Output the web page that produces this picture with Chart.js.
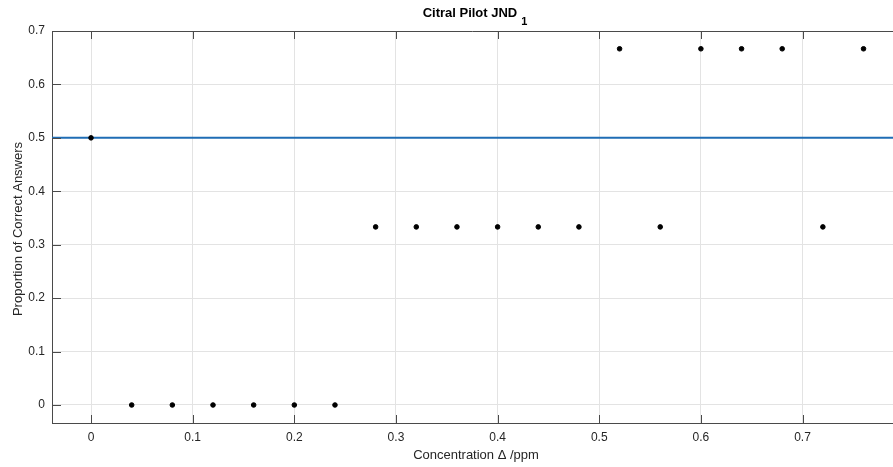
<!DOCTYPE html>
<html>
<head>
<meta charset="utf-8">
<script src="https://cdn.jsdelivr.net/npm/chart.js@4"></script>
<style>
  html, body { margin: 0; padding: 0; background: #fff; }
  #wrap { width: 893px; height: 467px; position: relative; }
</style>
</head>
<body>
<div id="wrap"><canvas id="chart"></canvas></div>
<script>
// values
const concentration = [0, 0.04, 0.08, 0.12, 0.16, 0.2, 0.24, 0.28, 0.32, 0.36,
                       0.4, 0.44, 0.48, 0.52, 0.56, 0.6, 0.64, 0.68, 0.72, 0.76];
const proportion = [0.5, 0, 0, 0, 0, 0, 0, 0.3333, 0.3333, 0.3333,
                    0.3333, 0.3333, 0.3333, 0.6667, 0.3333, 0.6667, 0.6667, 0.6667, 0.3333, 0.6667];
const chanceLevel = 0.5;
const xTicks = [0, 0.1, 0.2, 0.3, 0.4, 0.5, 0.6, 0.7];
const yTicks = [0, 0.1, 0.2, 0.3, 0.4, 0.5, 0.6, 0.7];
const xLimits = [-0.0384, 0.789];
const yLimits = [-0.0337, 0.7];

const FONT = '"Liberation Sans", Arial, Helvetica, sans-serif';
const AXIS_COLOR = '#4a4a4a';

// MATLAB-like box: inward ticks, top border, title and axis labels
const matlabAxes = {
    id: 'matlabAxes',
    afterDraw(chart) {
        const ctx = chart.ctx;
        const area = chart.chartArea;
        const xs = chart.scales.x;
        const ys = chart.scales.y;
        ctx.save();
        ctx.strokeStyle = AXIS_COLOR;
        ctx.lineWidth = 1;
        ctx.beginPath();
        ctx.moveTo(area.left, area.top + 0.5);
        ctx.lineTo(area.right, area.top + 0.5);
        xTicks.forEach(v => {
            const px = Math.round(xs.getPixelForValue(v)) + 0.5;
            ctx.moveTo(px, area.bottom);
            ctx.lineTo(px, area.bottom - 8);
            ctx.moveTo(px, area.top);
            ctx.lineTo(px, area.top + 8);
        });
        yTicks.forEach(v => {
            const py = Math.round(ys.getPixelForValue(v)) + 0.5;
            ctx.moveTo(area.left, py);
            ctx.lineTo(area.left + 9, py);
        });
        ctx.stroke();

        // title with subscript
        ctx.fillStyle = '#000';
        ctx.textBaseline = 'alphabetic';
        ctx.font = 'bold 13px ' + FONT;
        const main = 'Citral Pilot JND';
        const wMain = ctx.measureText(main).width;
        ctx.font = 'bold 11px ' + FONT;
        const wSub = ctx.measureText('1').width;
        const cx = 475;
        let startX = cx - (wMain + 4 + wSub) / 2;
        ctx.font = 'bold 13px ' + FONT;
        ctx.textAlign = 'left';
        ctx.fillText(main, startX, 17);
        ctx.font = 'bold 11px ' + FONT;
        ctx.fillText('1', startX + wMain + 4, 25);

        // axis labels
        ctx.fillStyle = '#262626';
        ctx.font = '13px ' + FONT;
        ctx.textAlign = 'center';
        ctx.fillText('Concentration \u0394 /ppm', 476, 459);
        ctx.translate(22, 229);
        ctx.rotate(-Math.PI / 2);
        ctx.fillText('Proportion of Correct Answers', 0, 0);
        ctx.restore();
    }
};

new Chart(document.getElementById('chart'), {
    type: 'scatter',
    data: {
        datasets: [
            {
                label: 'chance',
                type: 'line',
                data: [{x: xLimits[0], y: chanceLevel}, {x: xLimits[1], y: chanceLevel}],
                borderColor: '#1f6db5',
                borderWidth: 2,
                pointRadius: 0,
                order: 2
            },
            {
                label: 'JND',
                data: concentration.map((c, i) => ({x: c, y: proportion[i]})),
                backgroundColor: '#000',
                borderColor: '#000',
                pointRadius: 2.3,
                order: 1
            }
        ]
    },
    options: {
        responsive: true,
        maintainAspectRatio: false,
        animation: false,
        layout: {
            autoPadding: false,
            padding: {top: 31, right: 0, left: 0, bottom: 0}
        },
        plugins: {
            legend: {display: false},
            tooltip: {enabled: false}
        },
        scales: {
            x: {
                type: 'linear',
                min: xLimits[0],
                max: xLimits[1],
                afterBuildTicks: scale => { scale.ticks = xTicks.map(v => ({value: v})); },
                afterFit: scale => {
                    scale.height = 44;
                    scale.paddingLeft = 0;
                    scale.paddingRight = 0;
                },
                ticks: {
                    color: '#262626',
                    font: {family: FONT, size: 12},
                    padding: 7,
                    maxRotation: 0,
                    callback: v => String(+v.toFixed(2))
                },
                grid: {color: '#e3e3e3', tickLength: 0},
                border: {color: AXIS_COLOR, width: 1}
            },
            y: {
                type: 'linear',
                min: yLimits[0],
                max: yLimits[1],
                afterBuildTicks: scale => { scale.ticks = yTicks.map(v => ({value: v})); },
                afterFit: scale => {
                    scale.width = 52;
                    scale.paddingTop = 0;
                    scale.paddingBottom = 0;
                },
                ticks: {
                    color: '#262626',
                    font: {family: FONT, size: 12},
                    padding: 7,
                    callback: v => String(+v.toFixed(2))
                },
                grid: {color: '#e3e3e3', tickLength: 0},
                border: {color: AXIS_COLOR, width: 1}
            }
        }
    },
    plugins: [matlabAxes]
});
</script>
</body>
</html>
